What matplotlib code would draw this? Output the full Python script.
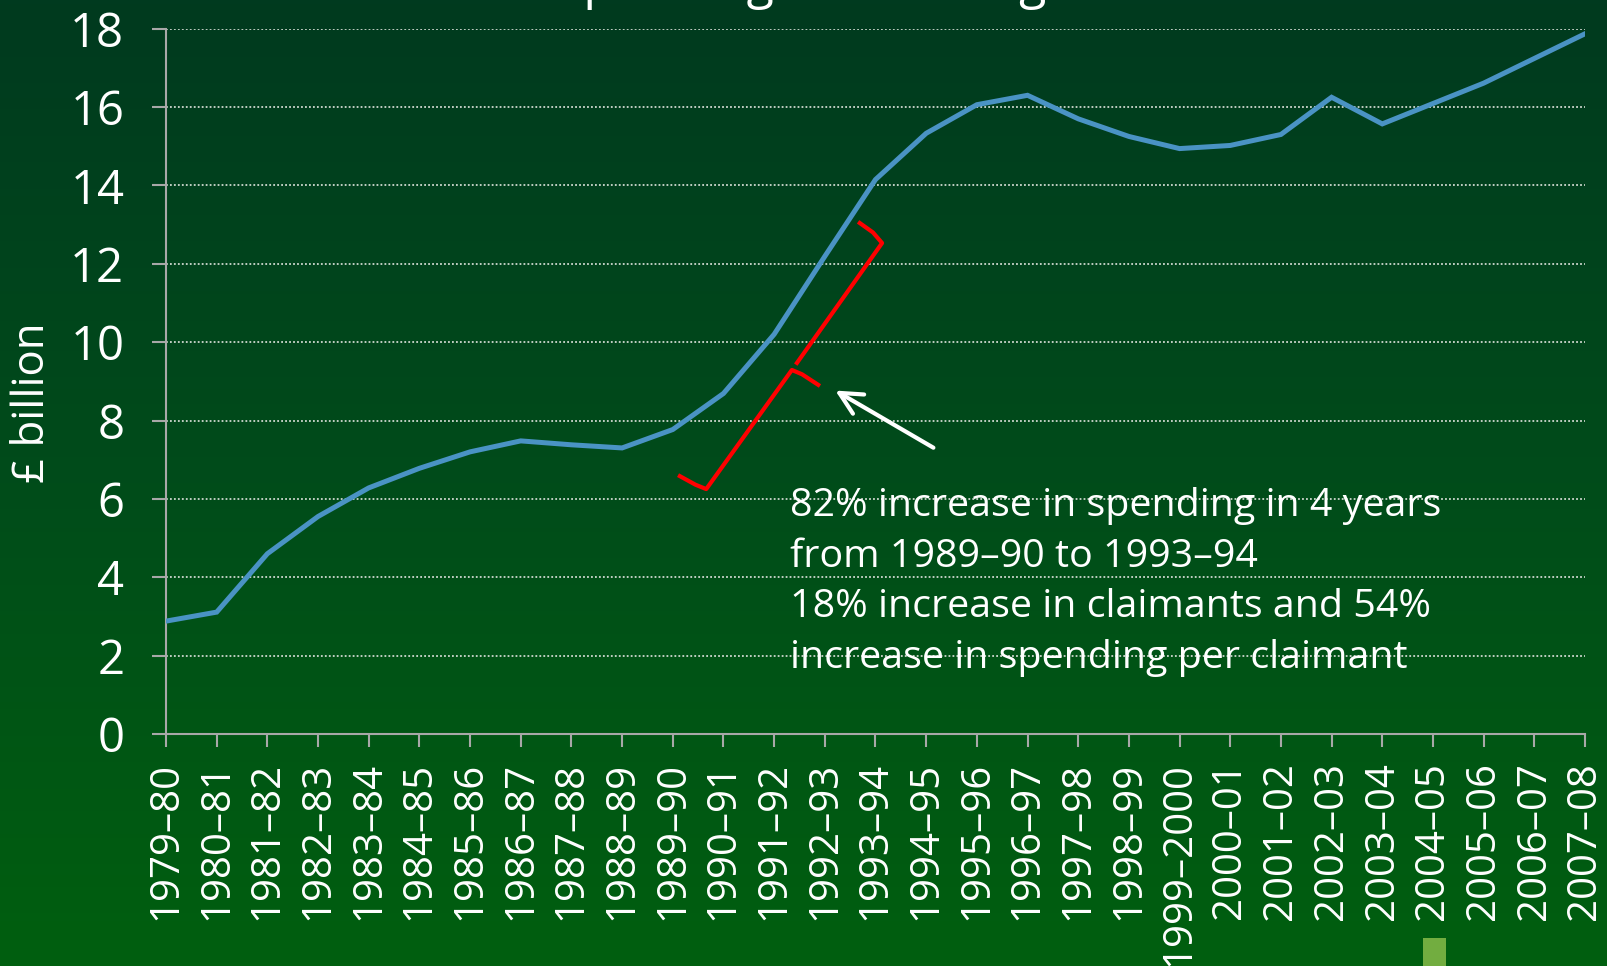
import matplotlib
matplotlib.use("Agg")
import matplotlib.pyplot as plt
import numpy as np
from matplotlib.colors import LinearSegmentedColormap
from matplotlib.patches import Rectangle

# Housing benefit spending, £ billion
years = [
    "1979–80", "1980–81", "1981–82", "1982–83", "1983–84", "1984–85",
    "1985–86", "1986–87", "1987–88", "1988–89", "1989–90", "1990–91",
    "1991–92", "1992–93", "1993–94", "1994–95", "1995–96", "1996–97",
    "1997–98", "1998–99", "1999–2000", "2000–01", "2001–02", "2002–03",
    "2003–04", "2004–05", "2005–06", "2006–07", "2007–08",
]
spending = [
    2.88, 3.11, 4.60, 5.55, 6.28, 6.78, 7.20, 7.48, 7.38, 7.30,
    7.77, 8.69, 10.20, 12.19, 14.15, 15.33, 16.06, 16.30, 15.70, 15.25,
    14.94, 15.02, 15.30, 16.25, 15.57, 16.09, 16.61, 17.24, 17.87,
]
yticks = [0, 2, 4, 6, 8, 10, 12, 14, 16, 18]

note = ("82% increase in spending in 4 years\n"
        "from 1989–90 to 1993–94\n"
        "18% increase in claimants and 54%\n"
        "increase in spending per claimant")

plt.rcParams["font.family"] = ["Open Sans", "DejaVu Sans"]

fig = plt.figure(figsize=(16.07, 9.66), dpi=100)

# background gradient, dark green at top to brighter green at bottom
bg = fig.add_axes([0, 0, 1, 1], zorder=-10)
grad_cmap = LinearSegmentedColormap.from_list("bg", ["#003a1f", "#004c1a", "#005f0f"])
bg.imshow(np.linspace(0, 1, 256).reshape(-1, 1), aspect="auto", cmap=grad_cmap,
          extent=[0, 1, 0, 1])
bg.axis("off")

ax = fig.add_axes([0.1033, 0.2402, 0.8830, 0.7301])
ax.set_facecolor("none")

x = np.arange(len(years))
ax.plot(x, spending, color="#4a93c4", linewidth=3.6, solid_joinstyle="miter", zorder=3)

ax.set_xlim(0, len(years) - 1)
ax.set_ylim(0, 18)
ax.set_xticks(x)
ax.set_xticklabels(years, rotation=90, fontsize=29, color="white")
ax.set_yticks(yticks)
ax.set_yticklabels([str(v) for v in yticks], fontsize=34, color="white")
ax.tick_params(axis="y", length=10, width=1.5, color="#a8a8a8", pad=20)
ax.tick_params(axis="x", length=9, width=1.5, color="#a8a8a8", pad=11)
ax.yaxis.grid(True, linestyle=(0, (1, 1.2)), linewidth=1.3, color="#cfd8cf")
ax.set_axisbelow(True)
for side in ["top", "right"]:
    ax.spines[side].set_visible(False)
for side in ["left", "bottom"]:
    ax.spines[side].set_color("#a8a8a8")
    ax.spines[side].set_linewidth(1.5)
ax.set_ylabel("£ billion", fontsize=31.5, color="white")
ax.yaxis.set_label_coords(-0.078, 0.47)

# red brace over the 1989-90 to 1993-94 rise
brace_x = [10.14, 10.45, 10.66, 12.35, 12.55, 12.87]
brace_y = [6.58, 6.36, 6.25, 9.29, 9.18, 8.91]
brace_x2 = [12.45, 14.13, 13.95, 13.69]
brace_y2 = [9.47, 12.53, 12.80, 13.04]
ax.plot(brace_x, brace_y, color="red", linewidth=3, zorder=4, clip_on=False)
ax.plot(brace_x2, brace_y2, color="red", linewidth=3, zorder=4, clip_on=False)

ax.annotate("", xy=(13.16, 8.8), xytext=(15.19, 7.27),
            arrowprops=dict(arrowstyle="->", color="white", lw=3, mutation_scale=40))
ax.text(12.31, 6.3, note, fontsize=28.4, color="white", va="top", ha="left",
        linespacing=1.43, zorder=5)

# title cut off at the top edge, only descenders show
fig.text(0.346, 1.002, "Spending on housing benefit", fontsize=36, color="white",
         ha="left", va="baseline")

# small legend swatch cut off at the bottom edge
fig.patches.append(Rectangle((0.8855, 0.0), 0.0143, 0.029, transform=fig.transFigure,
                             facecolor="#72ad40", edgecolor="none"))

fig.savefig("out.png", dpi=100)
